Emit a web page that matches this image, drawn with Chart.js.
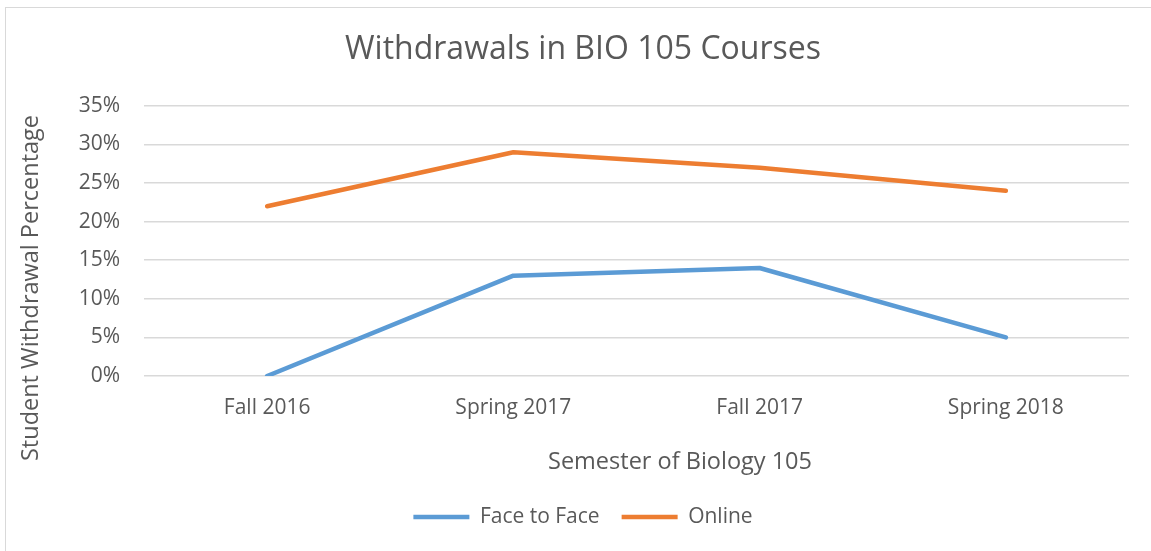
<!DOCTYPE html>
<html>
<head>
<meta charset="utf-8">
<script src="https://cdn.jsdelivr.net/npm/chart.js@4"></script>
<style>
   html, body { margin: 0; padding: 0; background: #fff; }
   #app { position: relative; width: 1151px; height: 551px; overflow: hidden; }
   #frame { position: absolute; left: 5px; top: 7px; width: 1200px; height: 600px;
            border-left: 1px solid #d9d9d9; border-top: 1px solid #d9d9d9; }
   #myChart { position: absolute; left: 0; top: 0; }
</style>
</head>
<body>
<div id="app">
   <div id="frame"></div>
   <canvas id="myChart" width="1151" height="551"></canvas>
</div>
<script>
const semesters = ['Fall 2016', 'Spring 2017', 'Fall 2017', 'Spring 2018'];
const faceToFace = [0, 13, 14, 5];
const online = [22, 29, 27, 24];
const yTicks = [0, 5, 10, 15, 20, 25, 30, 35];

const FONT = '"Open Sans", sans-serif';
const TEXT = '#595959';

// axis titles drawn by hand so they sit where Excel put them
const axisTitles = {
   id: 'axisTitles',
   afterDraw(chart) {
      const ctx = chart.ctx;
      ctx.save();
      ctx.fillStyle = TEXT;
      ctx.font = '23.5px ' + FONT;
      ctx.textAlign = 'center';
      ctx.textBaseline = 'middle';
      ctx.fillText('Semester of Biology 105', 680, 462);
      ctx.translate(31, 288);
      ctx.rotate(-Math.PI / 2);
      ctx.fillText('Student Withdrawal Percentage', 0, 0);
      ctx.restore();
   }
};

const myChart = new Chart(document.getElementById('myChart').getContext('2d'), {
   type: 'line',
   data: {
      labels: semesters,
      datasets: [
         {
            label: 'Face to Face',
            data: faceToFace,
            borderColor: '#5b9bd5',
            backgroundColor: '#5b9bd5',
            borderWidth: 4.5,
            borderCapStyle: 'round',
            borderJoinStyle: 'round',
            pointRadius: 0,
            pointStyle: 'line',
            tension: 0,
            fill: false,
         },
         {
            label: 'Online',
            data: online,
            borderColor: '#ed7d31',
            backgroundColor: '#ed7d31',
            borderWidth: 4.5,
            borderCapStyle: 'round',
            borderJoinStyle: 'round',
            pointRadius: 0,
            pointStyle: 'line',
            tension: 0,
            fill: false,
         },
      ],
   },
   options: {
      responsive: false,
      animation: false,
      layout: { padding: { left: 37, right: 22, top: 0, bottom: 13.5 } },
      plugins: {
         title: {
            display: true,
            text: 'Withdrawals in BIO 105 Courses',
            color: TEXT,
            font: { family: FONT, size: 32, weight: 'normal' },
            padding: { top: 31, bottom: 36.5 },
         },
         legend: {
            position: 'bottom',
            labels: {
               usePointStyle: true,
               pointStyleWidth: 56,
               color: TEXT,
               font: { family: FONT, size: 21 },
               padding: 22,
            },
         },
         tooltip: { enabled: false },
      },
      scales: {
         x: {
            offset: true,
            grid: { display: false, drawTicks: false },
            border: { display: false },
            ticks: { color: TEXT, font: { family: FONT, size: 21 }, padding: 19 },
            afterFit: s => { s.height = 108.5; },
         },
         y: {
            min: 0,
            max: 35,
            afterBuildTicks: s => { s.ticks = yTicks.map(v => ({ value: v })); },
            grid: { color: '#d9d9d9', lineWidth: 1.5, drawTicks: false },
            border: { display: false },
            ticks: {
               color: TEXT,
               font: { family: FONT, size: 21 },
               padding: 24,
               callback: v => v + '%',
            },
            afterFit: s => { s.width = 107; },
         },
      },
   },
   plugins: [axisTitles],
});
</script>
</body>
</html>
